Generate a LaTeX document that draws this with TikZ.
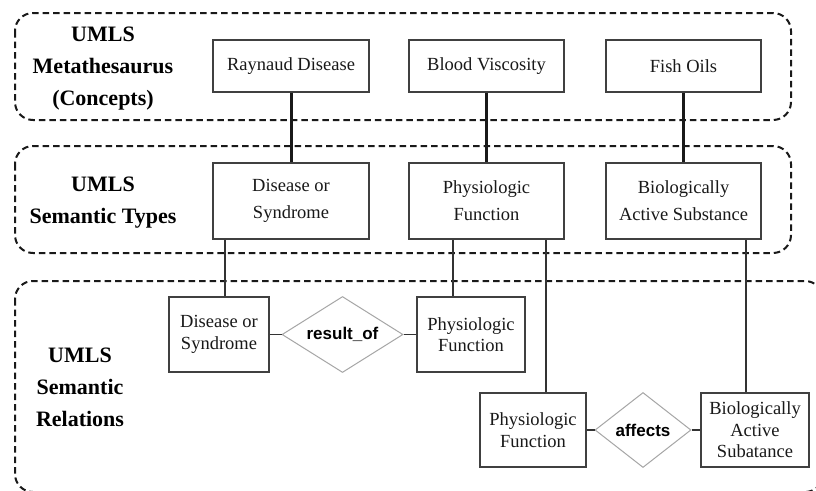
\documentclass[tikz,border=0pt]{standalone}
\usepackage{fontspec}
\setmainfont{Liberation Serif}
\newfontfamily\diafont{Liberation Sans}
\usetikzlibrary{shapes.geometric}
\begin{document}
\begin{tikzpicture}[x=1pt,y=-1pt,
  group/.style={draw=black!90,line width=2pt,dash pattern=on 6.5pt off 4pt,rounded corners=18pt},
  grouplabel/.style={align=center,inner sep=0pt,font=\fontsize{22}{32}\selectfont\bfseries,text=black},
  conbox/.style={draw=black!75,line width=1.3pt,fill=white,inner sep=0pt,align=center,text=black!90,
    font=\fontsize{18.5}{27}\selectfont},
  relbox/.style={draw=black!75,line width=1.3pt,fill=white,inner sep=0pt,align=center,text=black!90,
    font=\fontsize{18.5}{21.5}\selectfont},
  rel/.style={shape=diamond,draw=black!35,line width=1pt,fill=white,inner sep=0pt,aspect=1.6,
    font=\diafont\bfseries\fontsize{17}{20}\selectfont,text=black},
  thickcon/.style={line width=3pt,draw=black!90},
  thincon/.style={line width=1.8pt,draw=black!80}
]
\useasboundingbox (0,0) rectangle (816,490);
\fill[white] (0,0) rectangle (816,490);
\begin{scope}
\clip (0,0) rectangle (816,490);
% groups
\draw[group] (15,13) rectangle (791,120);
\draw[group] (15,146) rectangle (791,253);
\draw[group] (15,281) rectangle (823,492);
\end{scope}

% labels
\node[grouplabel] (l1) at (103,69) {UMLS\\Metathesaurus\\(Concepts)};
\node[grouplabel] (l2) at (103,203) {UMLS\\Semantic Types};
\node[grouplabel] (l3) at (80,387) {UMLS\\Semantic\\Relations};

% concept row
\node[conbox,minimum width=156pt,minimum height=52pt] (rd) at (291,66) {Raynaud Disease};
\node[conbox,minimum width=155pt,minimum height=52pt] (bv) at (486.5,66) {Blood Viscosity};
\node[conbox,minimum width=155pt,minimum height=52pt] (fo) at (683.5,66) {Fish Oils};

% semantic type row
\node[conbox,minimum width=156pt,minimum height=76pt] (ds) at (291,201) {Disease or\\Syndrome};
\node[conbox,minimum width=155pt,minimum height=76pt] (pf) at (486.5,201) {Physiologic\\Function};
\node[conbox,minimum width=155pt,minimum height=76pt] (bas) at (683.5,201) {Biologically\\Active Substance};

% relations
\node[relbox,minimum width=100pt,minimum height=75pt] (ds2) at (219,334.5) {Disease or\\Syndrome};
\node[rel,minimum width=121pt,minimum height=76pt] (d1) at (342.5,334.5) {result\_of};
\node[relbox,minimum width=108pt,minimum height=75pt] (pf2) at (471,334.5) {Physiologic\\Function};

\node[relbox,minimum width=106pt,minimum height=74pt] (pf3) at (533,430) {Physiologic\\Function};
\node[rel,minimum width=96pt,minimum height=75pt] (d2) at (643,430) {affects};
\node[relbox,minimum width=108pt,minimum height=74pt] (bas2) at (755,430) {Biologically\\Active\\Subatance};

% connectors
\draw[thickcon] (rd.south) -- (ds.north);
\draw[thickcon] (bv.south) -- (pf.north);
\draw[thickcon] (fo.south) -- (bas.north);

\draw[thincon] ([xshift=6pt]ds2.north) -- ([xshift=6pt]ds2.north |- ds.south);
\draw[thincon] ([xshift=-18pt]pf2.north) -- ([xshift=-18pt]pf2.north |- pf.south);
\draw[thincon] ([xshift=13pt]pf3.north) -- ([xshift=13pt]pf3.north |- pf.south);
\draw[thincon] ([xshift=-9pt]bas2.north) -- ([xshift=-9pt]bas2.north |- bas.south);

\draw[thincon] (ds2.east) -- (d1.west);
\draw[thincon] (d1.east) -- (pf2.west);
\draw[thincon] (pf3.east) -- (d2.west);
\draw[thincon] (d2.east) -- (bas2.west);
\end{tikzpicture}
\end{document}
